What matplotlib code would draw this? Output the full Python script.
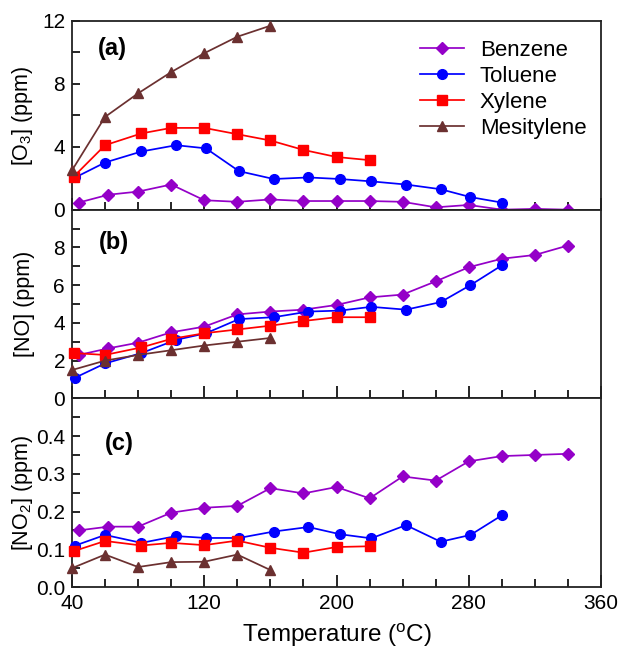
#!/usr/bin/env python

import numpy as np
import matplotlib.pyplot as plt
from matplotlib.ticker import MultipleLocator

plt.rcParams['font.family'] = ['Liberation Sans', 'DejaVu Sans']
plt.rcParams['mathtext.fontset'] = 'custom'
plt.rcParams['mathtext.rm'] = 'Liberation Sans'
plt.rcParams['mathtext.it'] = 'Liberation Sans:italic'

##temperatures for each compound
benzene_t = [44, 62, 80, 100, 120, 140, 160, 180, 200, 220, 240, 260, 280, 300, 320, 340]
toluene_t = [42, 60, 82, 103, 121, 141, 162, 183, 202, 221, 242, 263, 281, 300]
xylene_t = [41, 60, 82, 100, 120, 140, 160, 180, 200, 220]
mesitylene_t = [40, 60, 80, 100, 120, 140, 160]

##ozone
benzene_o3 = [0.45, 0.95, 1.15, 1.6, 0.6, 0.5, 0.65, 0.55, 0.55, 0.55, 0.5, 0.15, 0.3, 0.0, 0.05, 0.0]
toluene_o3 = [2.05, 3.0, 3.7, 4.1, 3.9, 2.45, 1.95, 2.05, 1.95, 1.8, 1.6, 1.3, 0.8, 0.45]
xylene_o3 = [2.1, 4.1, 4.85, 5.2, 5.2, 4.8, 4.4, 3.8, 3.35, 3.15]
mesitylene_o3 = [2.5, 5.9, 7.4, 8.75, 9.95, 11.0, 11.7]

##nitric oxide
benzene_no = [2.3, 2.65, 2.95, 3.5, 3.8, 4.45, 4.6, 4.7, 4.95, 5.35, 5.5, 6.2, 6.95, 7.4, 7.6, 8.1]
toluene_no = [1.1, 1.85, 2.4, 3.1, 3.45, 4.2, 4.3, 4.6, 4.65, 4.85, 4.7, 5.1, 6.0, 7.05]
xylene_no = [2.4, 2.3, 2.7, 3.15, 3.45, 3.65, 3.85, 4.1, 4.3, 4.3]
mesitylene_no = [1.5, 2.0, 2.3, 2.55, 2.8, 3.0, 3.2]

##nitrogen dioxide
benzene_no2 = [0.15, 0.16, 0.16, 0.197, 0.21, 0.215, 0.262, 0.248, 0.265, 0.235, 0.293, 0.282, 0.333, 0.347, 0.35, 0.353]
toluene_no2 = [0.11, 0.138, 0.117, 0.135, 0.13, 0.13, 0.147, 0.159, 0.14, 0.129, 0.164, 0.12, 0.138, 0.19]
xylene_no2 = [0.095, 0.122, 0.11, 0.117, 0.111, 0.123, 0.104, 0.091, 0.106, 0.108]
mesitylene_no2 = [0.05, 0.086, 0.053, 0.066, 0.067, 0.086, 0.045]

x_ticks = [40, 120, 200, 280, 360]

names = ['Benzene', 'Toluene', 'Xylene', 'Mesitylene']
temps = [benzene_t, toluene_t, xylene_t, mesitylene_t]
colors = ['#9400C8', '#0000FF', '#FF0000', '#6B3030']
markers = ['D', 'o', 's', '^']
msizes = [6, 7, 6.5, 6.5]

panels = [
    ([benzene_o3, toluene_o3, xylene_o3, mesitylene_o3], r'[O$_3$] (ppm)', (0, 12), [0, 4, 8, 12], 2, '(a)', (0.049, 0.856)),
    ([benzene_no, toluene_no, xylene_no, mesitylene_no], '[NO] (ppm)', (0, 10), [0, 2, 4, 6, 8], 1, '(b)', (0.051, 0.827)),
    ([benzene_no2, toluene_no2, xylene_no2, mesitylene_no2], r'[NO$_2$] (ppm)', (0, 0.5), [0.0, 0.1, 0.2, 0.3, 0.4], 0.05, '(c)', (0.062, 0.762)),
]

fig, axes = plt.subplots(3, 1, figsize=(6.19, 6.48), dpi=100, sharex=True)
fig.subplots_adjust(left=0.1163, right=0.971, top=0.9676, bottom=0.0941, hspace=0)

for ax, (vals, ylab, ylim, yt, minor, tag, tagpos) in zip(axes, panels):
    for name, t, v, c, m, ms in zip(names, temps, vals, colors, markers, msizes):
        ax.plot(t, v, color=c, marker=m, markersize=ms, linewidth=1.25,
                label=name, clip_on=False, zorder=3)
    ax.set_xlim(40, 360)
    ax.set_ylim(*ylim)
    ax.set_yticks(yt)
    ax.yaxis.set_minor_locator(MultipleLocator(minor))
    ax.set_xticks(x_ticks)
    ax.xaxis.set_minor_locator(MultipleLocator(20))
    ax.tick_params(which='both', direction='in', labelsize=15, width=1.2,
                   top=False, right=False, pad=5)
    ax.tick_params(axis='x', which='major', length=9)
    ax.tick_params(axis='x', which='minor', length=6)
    ax.tick_params(axis='y', which='both', length=6)
    for s in ax.spines.values():
        s.set_linewidth(1.3)
        s.set_color('#222222')
    ax.set_ylabel(ylab, fontsize=15.5)
    ax.yaxis.set_label_coords(-0.07, 0.5)
    ax.text(tagpos[0], tagpos[1], tag, transform=ax.transAxes, fontsize=17,
            fontweight='bold', va='center')

axes[2].set_yticklabels(['0.0', '0.1', '0.2', '0.3', '0.4'])
axes[2].set_xlabel(r'Temperature ($^{\mathrm{o}}$C)', fontsize=17.5, labelpad=6)

axes[0].legend(loc='upper right', bbox_to_anchor=(1.01, 1.005), frameon=False,
               fontsize=16, handlelength=2.0, handletextpad=0.7, labelspacing=0.22)

fig.savefig('out.png', dpi=100)
